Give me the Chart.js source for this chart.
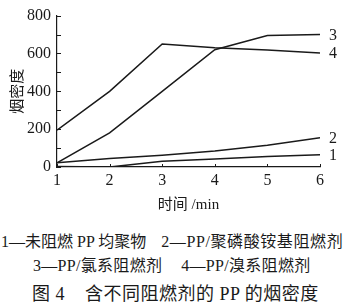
<!DOCTYPE html>
<html>
<head>
<meta charset="utf-8">
<script src="https://cdn.jsdelivr.net/npm/chart.js@4"></script>
<style>
  html, body { margin: 0; padding: 0; background: #fff; }
  body { width: 353px; height: 304px; position: relative; overflow: hidden;
         font-family: "Liberation Serif", "Noto Sans CJK SC", serif; color: #1a1a1a; }
  #wrap { position: absolute; left: 0; top: 0; width: 353px; height: 214px; }
  .txt { position: absolute; white-space: nowrap; line-height: 1; }
  .gap { display: inline-block; }
</style>
</head>
<body>
<div id="wrap"><canvas id="c"></canvas></div>
<div class="txt" style="top:234px;left:1px;font-size:16px;">1—未阻燃 PP 均聚物<span class="gap" style="width:15px"></span><span style="letter-spacing:0.6px">2—PP/聚磷酸铵基阻燃剂</span></div>
<div class="txt" style="top:258px;left:33px;font-size:16px;letter-spacing:0.3px;">3—PP/氯系阻燃剂<span class="gap" style="width:19px"></span>4—PP/溴系阻燃剂</div>
<div class="txt" style="top:285px;left:32px;font-size:18px;letter-spacing:0.5px;">图 4<span class="gap" style="width:20px"></span>含不同阻燃剂的 PP 的烟密度</div>
<script>
// 烟密度数据
const tempo = [1, 2, 3, 4, 5, 6];
const s1 = [3, 0, 30, 42, 55, 65];
const s2 = [22, 45, 62, 85, 115, 155];
const s3 = [22, 180, 400, 620, 695, 700];
const s4 = [195, 400, 650, 630, 618, 603];
const nomes = ["1", "2", "3", "4"];
const yTicks = [0, 200, 400, 600, 800];

const cor = "#1a1a1a";
const serif = "'Liberation Serif', 'Noto Sans CJK SC', serif";

function pts(arr) {
  return arr.map((v, i) => ({ x: tempo[i], y: v }));
}

// marcas de escala para dentro + rotulos no fim das linhas
const extras = {
  id: "extras",
  afterDraw(chart) {
    const { ctx, scales } = chart;
    const xs = scales.x, ys = scales.y;
    ctx.save();
    ctx.strokeStyle = cor;
    ctx.lineWidth = 1;
    ctx.beginPath();
    for (let v = 0; v <= 800; v += 100) {
      const py = Math.round(ys.getPixelForValue(v)) + 0.5;
      ctx.moveTo(xs.left, py);
      ctx.lineTo(xs.left + 4, py);
    }
    tempo.forEach((t) => {
      const px = Math.round(xs.getPixelForValue(t)) + 0.5;
      ctx.moveTo(px, ys.bottom);
      ctx.lineTo(px, ys.bottom - 3);
    });
    ctx.stroke();
    ctx.fillStyle = cor;
    ctx.font = "16px " + serif;
    ctx.textBaseline = "middle";
    chart.data.datasets.forEach((ds) => {
      const last = ds.data[ds.data.length - 1];
      ctx.fillText(ds.label, xs.getPixelForValue(last.x) + 9, ys.getPixelForValue(last.y) + 1);
    });
    ctx.restore();
  },
};

new Chart(document.getElementById("c"), {
  type: "line",
  data: {
    datasets: [s1, s2, s3, s4].map((s, i) => ({
      label: nomes[i],
      data: pts(s),
      borderColor: cor,
      borderWidth: 1.5,
      pointRadius: 0,
      tension: 0,
      fill: false,
    })),
  },
  options: {
    responsive: true,
    maintainAspectRatio: false,
    animation: false,
    events: [],
    layout: { padding: { left: 0, right: 33, top: 10, bottom: 0 } },
    plugins: { legend: { display: false }, tooltip: { enabled: false } },
    scales: {
      x: {
        type: "linear",
        min: 1,
        max: 6,
        afterFit: (s) => { s.height = 47; },
        afterBuildTicks: (s) => { s.ticks = tempo.map((v) => ({ value: v })); },
        grid: { display: false, drawTicks: false },
        border: { color: cor, width: 1.2 },
        ticks: { color: cor, font: { family: serif, size: 16 }, padding: 4 },
        title: { display: true, text: "时间 /min", color: cor, font: { family: serif, size: 15 }, padding: { top: 2, bottom: 0 } },
      },
      y: {
        min: 0,
        max: 800,
        afterFit: (s) => { s.width = 57; },
        afterBuildTicks: (s) => { s.ticks = yTicks.map((v) => ({ value: v })); },
        grid: { display: false, drawTicks: false },
        border: { color: cor, width: 1.2 },
        ticks: { color: cor, font: { family: serif, size: 16 }, padding: 6 },
        title: { display: true, text: "烟密度", color: cor, font: { family: serif, size: 15 }, padding: { top: 9, bottom: 0 } },
      },
    },
  },
  plugins: [extras],
});
</script>
</body>
</html>
